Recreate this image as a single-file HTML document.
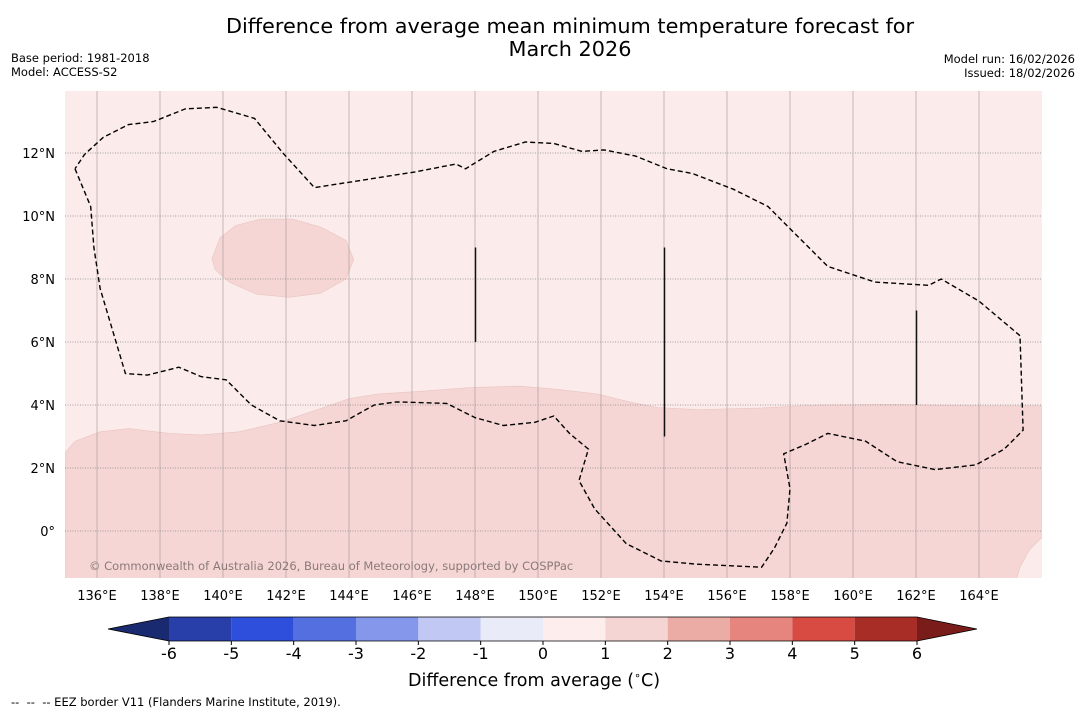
<!DOCTYPE html>
<html><head><meta charset="utf-8">
<style>
body{margin:0;background:#fff;font-family:"DejaVu Sans","Liberation Sans",sans-serif;}
#wrap{position:relative;width:1085px;height:713px;overflow:hidden;}
.t{position:absolute;white-space:nowrap;color:#000;}
svg text{font-family:"DejaVu Sans","Liberation Sans",sans-serif;}
</style></head><body>
<div id="wrap">
<div class="t" style="left:0;width:1140px;top:15px;text-align:center;font-size:20.8px;line-height:23px;">Difference from average mean minimum temperature forecast for<br>March 2026</div>
<div class="t" style="left:11px;top:51px;font-size:11.5px;line-height:14px;">Base period: 1981-2018<br>Model: ACCESS-S2</div>
<div class="t" style="right:10px;top:52px;font-size:11.5px;line-height:14px;text-align:right;">Model run: 16/02/2026<br>Issued: 18/02/2026</div>
<svg id="svg" width="1085" height="713" style="position:absolute;left:0;top:0"></svg>
<div class="t" style="left:408px;top:669px;font-size:17.5px;">Difference from average (<sup style="font-size:11px">∘</sup>C)</div>
<div class="t" style="left:11px;top:695px;font-size:11.5px;">--&nbsp; --&nbsp; -- EEZ border V11 (Flanders Marine Institute, 2019).</div>
</div>
<script>
const lonTicks=[136,138,140,142,144,146,148,150,152,154,156,158,160,162,164];
const latTicks=[0,2,4,6,8,10,12];
const cbTicks=[-6,-5,-4,-3,-2,-1,0,1,2,3,4,5,6];
const cbColors=["#283ea8","#2d4fdb","#5470e0","#8497ea","#c0c8f3","#e9ebf9","#fdeeed","#f5d5d3","#ebaca6","#e5857e","#d84b42","#a82d27"];
const eez=[[135.3,11.5],[135.8,10.3],[135.9,9],[136.1,7.7],[136.9,5],[137.6,4.95],[138.6,5.2],[139.3,4.9],[140.1,4.8],[140.9,4],[141.8,3.5],[142.9,3.35],[143.9,3.5],[144.8,4],[145.5,4.1],[147.1,4.05],[148,3.6],[148.9,3.35],[149.9,3.45],[150.5,3.65],[151,3.1],[151.6,2.6],[151.3,1.6],[151.8,0.7],[152.8,-0.4],[153.9,-0.95],[155,-1.05],[157.1,-1.15],[157.5,-0.55],[157.9,0.25],[158,1.35],[157.8,2.45],[158.5,2.75],[159.2,3.1],[160.4,2.85],[161.4,2.2],[162.6,1.95],[163.9,2.1],[164.8,2.6],[165.4,3.2],[165.3,6.2],[164,7.3],[162.8,8],[162.4,7.8],[160.7,7.9],[159.2,8.4],[158.1,9.5],[157.3,10.3],[156.2,10.85],[154.9,11.35],[154.1,11.5],[153.1,11.9],[152.1,12.1],[151.4,12.05],[150.5,12.3],[149.6,12.35],[148.6,12.05],[147.7,11.5],[147.4,11.65],[146.1,11.4],[144.5,11.15],[142.9,10.9],[141.9,12],[141,13.1],[139.8,13.45],[138.8,13.4],[137.8,13],[137,12.9],[136.2,12.5],[135.6,11.95],[135.3,11.5]];
const warmZone=[[135,2.5],[135.3,2.85],[136.1,3.15],[137,3.25],[138.3,3.1],[139.3,3.05],[140.5,3.15],[141.8,3.45],[143,3.85],[144,4.2],[144.9,4.35],[146.5,4.45],[147.8,4.55],[149.4,4.6],[150.6,4.5],[151.9,4.35],[152.9,4.1],[153.8,3.92],[155.1,3.85],[157,3.9],[158.9,4],[161.4,4.02],[163.9,3.97],[166,3.97],[166,-0.2],[165.6,-0.6],[165.3,-1.15],[165.2,-1.5],[135,-1.5]];
const warmOval=[[139.65,8.65],[139.9,9.3],[140.4,9.7],[141.2,9.9],[142.2,9.9],[143.1,9.65],[143.9,9.23],[144.15,8.62],[143.9,8],[143.1,7.55],[142.1,7.42],[141.05,7.52],[140.2,7.9],[139.75,8.3]];
const ridges=[[148,9,6],[154,9,3],[162,7,4]];
const X0=65.5,Y0=531,S=31.5,L=65,R=1042,T=91,B=578;
const x=lon=>X0+(lon-135)*S, y=lat=>Y0-lat*S;
const svg=document.getElementById('svg'),NS="http://www.w3.org/2000/svg";
function mk(tag,at,parent){const e=document.createElementNS(NS,tag);for(const k in at)e.setAttribute(k,at[k]);(parent||svg).appendChild(e);return e;}
const cp=mk('clipPath',{id:'mc'});mk('rect',{x:L,y:T,width:R-L,height:B-T},cp);
const g=mk('g',{'clip-path':'url(#mc)'});
let e=mk('rect',{x:L,y:T,width:R-L,height:B-T,fill:'#fbebea'},g);

const pts=a=>a.map(p=>x(p[0]).toFixed(1)+','+y(p[1]).toFixed(1)).join(' ');
e=mk('polygon',{points:pts(warmZone),fill:'#f5d6d4',stroke:'#e9c4c1','stroke-width':0.6},g);

e=mk('polygon',{points:pts(warmOval),fill:'#f5d6d4',stroke:'#e9c4c1','stroke-width':0.6},g);

lonTicks.forEach(v=>{const l=mk('line',{x1:x(v),x2:x(v),y1:T,y2:B,stroke:'#a09595','stroke-width':0.6},g);

const t=mk('text',{x:x(v),y:600,'text-anchor':'middle','font-size':13});t.textContent=v+'°E';
});
latTicks.forEach(v=>{const l=mk('line',{x1:L,x2:R,y1:y(v),y2:y(v),stroke:'#888','stroke-width':0.8,'stroke-dasharray':'1,1.5'},g);

const t=mk('text',{x:55,y:y(v)+5,'text-anchor':'end','font-size':13});t.textContent=v===0?'0°':v+'°N';
});
ridges.forEach(r=>{const l=mk('line',{x1:x(r[0])+0.5,x2:x(r[0])+0.5,y1:y(r[1]),y2:y(r[2]),stroke:'#111','stroke-width':1.5},g);
});
e=mk('polyline',{points:pts(eez),fill:'none',stroke:'#000','stroke-width':1.4,'stroke-dasharray':'5,3'},g);

e=mk('text',{x:89,y:570,'font-size':11.5,fill:'#8a7a7a'},g);e.textContent='© Commonwealth of Australia 2026, Bureau of Meteorology, supported by COSPPac';

const c0=169,c1=917,cy=617,ch=24,cw=(c1-c0)/(cbTicks.length-1),cx=v=>c0+(v-cbTicks[0])*cw;
e=mk('polygon',{points:`${c0},${cy} 108,${cy+ch/2} ${c0},${cy+ch}`,fill:'#1a2a70'});

e=mk('polygon',{points:`${c1},${cy} 977,${cy+ch/2} ${c1},${cy+ch}`,fill:'#7a1d1a'});

cbColors.forEach((c,i)=>{const r=mk('rect',{x:cx(cbTicks[i]),y:cy,width:cw,height:ch,fill:c});
});
mk('polygon',{points:`${c0},${cy} 108,${cy+ch/2} ${c0},${cy+ch} ${c1},${cy+ch} 977,${cy+ch/2} ${c1},${cy}`,fill:'none',stroke:'#000','stroke-width':0.8});
cbTicks.forEach(v=>{mk('line',{x1:cx(v),x2:cx(v),y1:cy+ch,y2:cy+ch+4,stroke:'#000'});
const t=mk('text',{x:cx(v),y:659,'text-anchor':'middle','font-size':16});t.textContent=v;
});
</script>
</body></html>
